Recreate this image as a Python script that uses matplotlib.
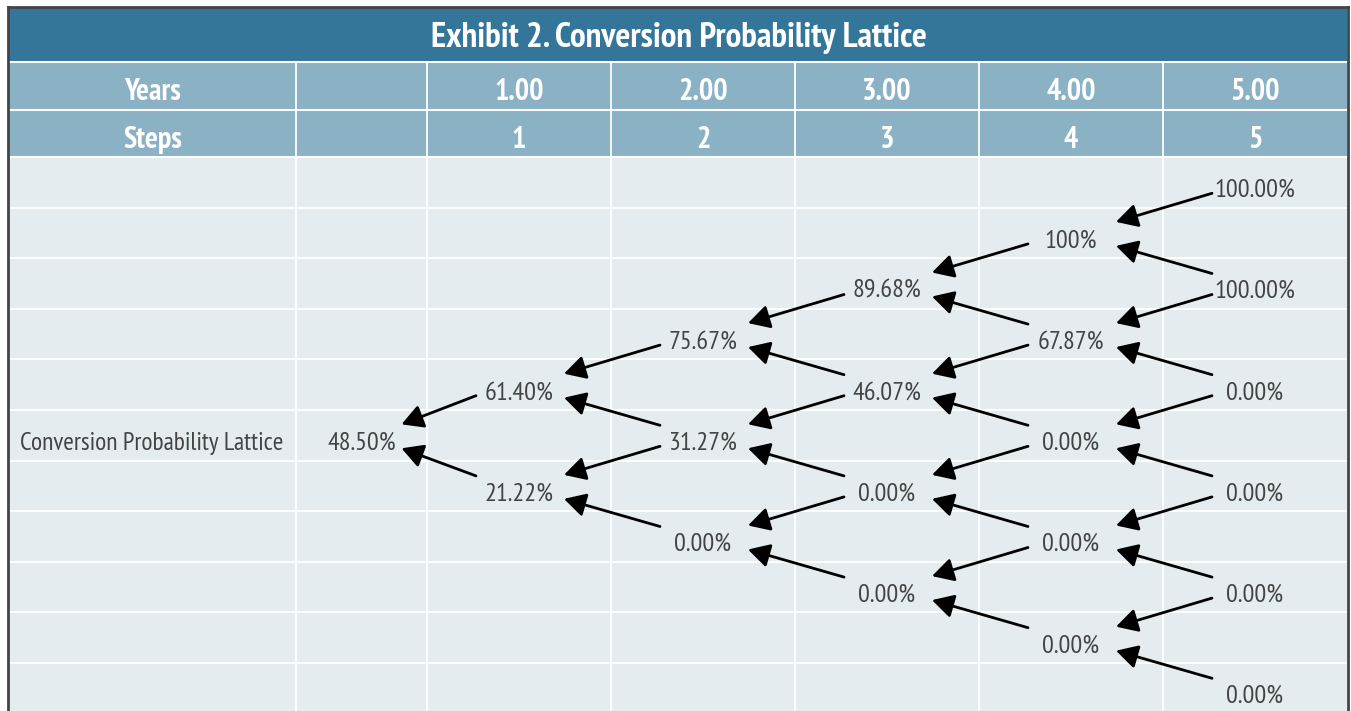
import matplotlib.pyplot as plt
from matplotlib import font_manager
from matplotlib.patches import Rectangle

# table content
title = "Exhibit 2. Conversion Probability Lattice"
row_label = "Conversion Probability Lattice"
years = ["1.00", "2.00", "3.00", "4.00", "5.00"]
steps = ["1", "2", "3", "4", "5"]

# lattice values, one list per step (top node first)
step0 = ["48.50%"]
step1 = ["61.40%", "21.22%"]
step2 = ["75.67%", "31.27%", "0.00%"]
step3 = ["89.68%", "46.07%", "0.00%", "0.00%"]
step4 = ["100%", "67.87%", "0.00%", "0.00%", "0.00%"]
step5 = ["100.00%", "100.00%", "0.00%", "0.00%", "0.00%", "0.00%"]
lattice = [step0, step1, step2, step3, step4, step5]

# layout (pixels)
W, H = 1351, 711
col_edges = [9, 296, 427, 611, 795, 979, 1163, 1347]
title_top, title_bot = 8, 62
hdr_edges = [62, 110, 157]
row_top, row_h, n_rows = 157, 50.6, 11

c_title = "#337699"
c_head = "#8bb1c5"
c_body = "#e4ecf0"
c_text = "#444444"

# pick a condensed family if one is installed
prefs = ["PT Sans Narrow", "Fira Sans Condensed", "Roboto Condensed", "Archivo Narrow",
         "Asap Condensed", "Encode Sans Condensed", "Barlow Semi Condensed",
         "Liberation Sans Narrow", "Open Sans Condensed", "DejaVu Sans"]
fonts = {}
for f in font_manager.fontManager.ttflist:
    fonts.setdefault(f.name, set()).add(f.weight if isinstance(f.weight, int) else 400)


def pick(bold):
    for p in prefs:
        if p in fonts and (not bold or max(fonts[p]) >= 700):
            return p
    return "DejaVu Sans"


fam_reg = pick(False)
fam_bold = pick(True)

fig = plt.figure(figsize=(W / 100, H / 100), dpi=100)
ax = fig.add_axes([0, 0, 1, 1])
ax.set_xlim(0, W)
ax.set_ylim(H, 0)
ax.axis('off')
renderer = fig.canvas.get_renderer()


def fit(t, width):
    # scale font so the text spans about the width seen in the reference
    bb = t.get_window_extent(renderer)
    t.set_fontsize(t.get_fontsize() * width / bb.width)
    return t.get_fontsize()


left, right = col_edges[0], col_edges[-1]
# backgrounds
ax.add_patch(Rectangle((left, title_top), right - left, title_bot - title_top, color=c_title, lw=0))
ax.add_patch(Rectangle((left, hdr_edges[0]), right - left, hdr_edges[-1] - hdr_edges[0], color=c_head, lw=0))
ax.add_patch(Rectangle((left, row_top), right - left, H - row_top, color=c_body, lw=0))

# white grid lines
for y in hdr_edges:
    ax.plot([left, right], [y, y], color="white", lw=1.5)
for i in range(1, n_rows):
    y = row_top + i * row_h
    ax.plot([left, right], [y, y], color="white", lw=1.3)
for x in col_edges[1:-1]:
    ax.plot([x, x], [hdr_edges[0], H], color="white", lw=1.3)

# outer frame
ax.plot([left - 1, left - 1], [title_top - 1, H], color="#444444", lw=2)
ax.plot([right + 1, right + 1], [title_top - 1, H], color="#444444", lw=2)
ax.plot([left - 1, right + 1], [title_top - 1, title_top - 1], color="#444444", lw=2)

# title + headers
t = ax.text((left + right) / 2 + 1, (title_top + title_bot) / 2 + 3.5, title, color="white",
            fontsize=20, fontweight="bold", family=fam_bold, ha="center", va="center")
fit(t, 497)

col_c = [(col_edges[i] + col_edges[i + 1]) / 2 for i in range(len(col_edges) - 1)]
hy1 = (hdr_edges[0] + hdr_edges[1]) / 2 + 6
hy2 = (hdr_edges[1] + hdr_edges[2]) / 2 + 6
t = ax.text(col_c[0], hy1, "Years", color="white", fontsize=17, fontweight="bold",
            family=fam_bold, ha="center", va="center")
fs_hdr = fit(t, 57)
hkw = dict(color="white", fontsize=fs_hdr, fontweight="bold", family=fam_bold, ha="center", va="center")
ax.text(col_c[0], hy2, "Steps", **hkw)
for i, (yr, st) in enumerate(zip(years, steps)):
    ax.text(col_c[i + 2], hy1, yr, **hkw)
    ax.text(col_c[i + 2], hy2, st, **hkw)


def node_xy(k, j):
    r = 5 - k + 2 * j
    return col_c[k + 1], row_top + (r + 0.5) * row_h + 6


t = ax.text(20, node_xy(0, 0)[1] + 2, row_label, color=c_text, fontsize=15,
            family=fam_reg, ha="left", va="center")
fs_body = fit(t, 264)

# nodes
for k, vals in enumerate(lattice):
    for j, v in enumerate(vals):
        x, y = node_xy(k, j)
        ax.text(x, y + 2, v, color=c_text, fontsize=fs_body * 1.03, family=fam_reg,
                ha="center", va="center")

# arrows from step k+1 back to step k
aprops = dict(arrowstyle="-|>,head_length=1.0,head_width=0.55", color="black",
              lw=2, mutation_scale=13, shrinkA=0, shrinkB=0)
for k in range(len(lattice) - 1):
    tip_dx = 40 if k == 0 else 45
    for j in range(len(lattice[k])):
        xd, yd = node_xy(k, j)
        xs, ys = node_xy(k + 1, j)
        ax.annotate("", xy=(xd + tip_dx, yd - 17), xytext=(xs - 43, ys + 5), arrowprops=aprops)
        xs, ys = node_xy(k + 1, j + 1)
        ax.annotate("", xy=(xd + tip_dx, yd + 7), xytext=(xs - 43, ys - 16), arrowprops=aprops)

fig.savefig("out.png", dpi=100)
